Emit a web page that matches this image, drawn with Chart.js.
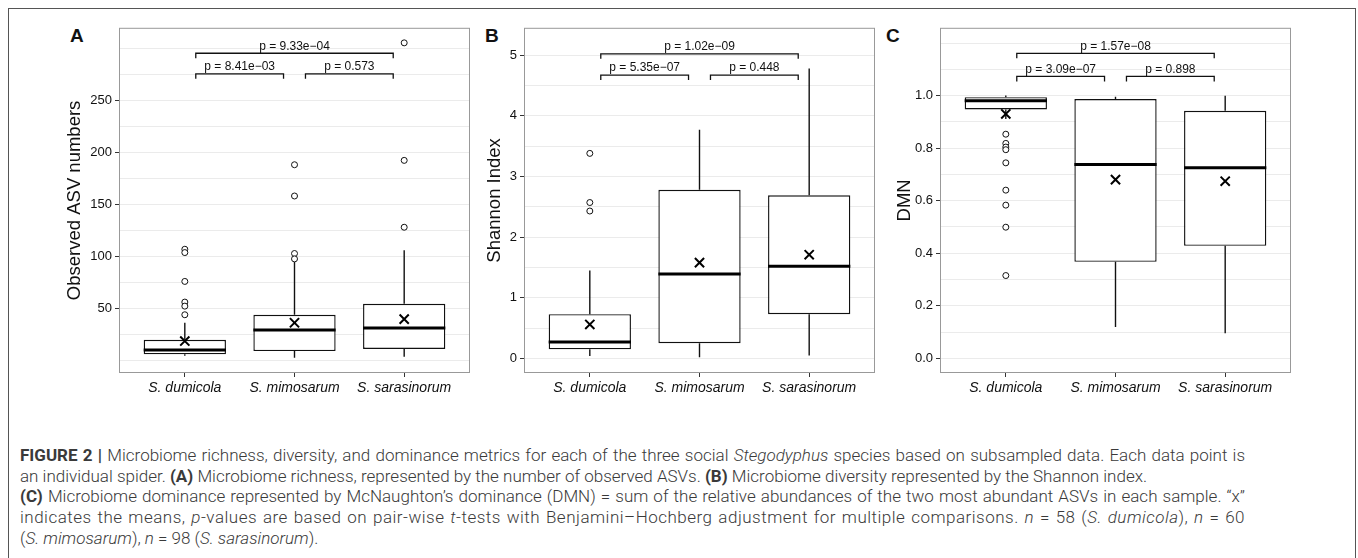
<!DOCTYPE html>
<html>
<head>
<meta charset="utf-8">
<script src="https://cdn.jsdelivr.net/npm/chart.js@4.4.0/dist/chart.umd.min.js"></script>
<style>
  body { margin: 0; width: 1358px; height: 558px; overflow: hidden; position: relative; background: #fff;
         font-family: "Liberation Sans", Arial, sans-serif; }
  #frame { position: absolute; left: 8px; top: 8px; width: 1348px; height: 570px; border: 1.5px solid #555; box-sizing: border-box; }
  .panel { position: absolute; top: 17px; width: 440px; height: 390px; }
  .tag { position: absolute; top: 26px; font-size: 19px; line-height: 1; font-weight: bold; color: #111; }
  #caption { position: absolute; left: 20px; top: 445px; width: 1225px; font-family: Roboto, "Liberation Sans", sans-serif;
             font-weight: 300; font-size: 17px; line-height: 20.7px; color: #3a3a3a; }
  #caption div { text-align: left; }
  #caption div.just { text-align: justify; text-align-last: justify; }
  #caption div.wide { letter-spacing: 0.5px; }
  #caption b { font-weight: 700; }
</style>
</head>
<body>
<div id="frame"></div>
<div class="tag" style="left:70px">A</div>
<div class="tag" style="left:485px">B</div>
<div class="tag" style="left:886px">C</div>
<canvas id="chartA" class="panel" style="left:40px" width="440" height="390"></canvas>
<canvas id="chartB" class="panel" style="left:445px" width="440" height="390"></canvas>
<canvas id="chartC" class="panel" style="left:861px" width="440" height="390"></canvas>
<div id="caption">
  <div class="just"><b>FIGURE 2 |</b> Microbiome richness, diversity, and dominance metrics for each of the three social <i>Stegodyphus</i> species based on subsampled data. Each data point is</div>
  <div>an individual spider. <b>(A)</b> Microbiome richness, represented by the number of observed ASVs. <b>(B)</b> Microbiome diversity represented by the Shannon index.</div>
  <div class="just"><b>(C)</b> Microbiome dominance represented by McNaughton’s dominance (DMN) = sum of the relative abundances of the two most abundant ASVs in each sample. “x”</div>
  <div class="just wide">indicates the means, <i>p</i>-values are based on pair-wise <i>t</i>-tests with Benjamini–Hochberg adjustment for multiple comparisons. <i>n</i> = 58 (<i>S. dumicola</i>), <i>n</i> = 60</div>
  <div>(<i>S. mimosarum</i>), <i>n</i> = 98 (<i>S. sarasinorum</i>).</div>
</div>
<script>
const species = ["S. dumicola", "S. mimosarum", "S. sarasinorum"];

// A: observed ASV numbers
const asvLow = [4, 2.2, 3.2];
const asvQ1 = [5.5, 8.6, 10.6];
const asvMedian = [9.6, 28.8, 30.8];
const asvQ3 = [19.5, 43.6, 54.2];
const asvHigh = [36, 95.5, 105.8];
const asvMean = [18.3, 35.9, 39.4];
const asvOutliers = [[106.7, 103.5, 75.7, 55.8, 51.9, 43.6], [102.6, 97.4, 188.1, 158], [127.9, 192.3, 305.5]];
const asvTicks = [50, 100, 150, 200, 250];
const asvP = ["p = 8.41e\u221203", "p = 0.573", "p = 9.33e\u221204"];

// B: Shannon index
const shLow = [0.04, 0.02, 0.05];
const shQ1 = [0.15, 0.25, 0.73];
const shMedian = [0.27, 1.39, 1.52];
const shQ3 = [0.73, 2.78, 2.69];
const shHigh = [1.45, 3.77, 4.78];
const shMean = [0.56, 1.58, 1.71];
const shOutliers = [[3.38, 2.57, 2.43], [], []];
const shTicks = [0, 1, 2, 3, 4, 5];
const shP = ["p = 5.35e\u221207", "p = 0.448", "p = 1.02e\u221209"];

// C: DMN
const dmnLow = [0.911, 0.119, 0.095];
const dmnQ1 = [0.947, 0.367, 0.428];
const dmnMedian = [0.98, 0.738, 0.725];
const dmnQ3 = [0.994, 0.987, 0.942];
const dmnHigh = [1.0, 0.996, 0.999];
const dmnMean = [0.93, 0.68, 0.674];
const dmnOutliers = [[0.853, 0.818, 0.804, 0.794, 0.744, 0.64, 0.583, 0.499, 0.315], [], []];
const dmnTicks = [0, 0.2, 0.4, 0.6, 0.8, 1.0];
const dmnP = ["p = 3.09e\u221207", "p = 0.898", "p = 1.57e\u221208"];

const pairs = [[1, 2], [2, 3], [1, 3]];

const panels = [
  { id: "chartA", title: "Observed ASV numbers", titlePad: 24, low: asvLow, q1: asvQ1, med: asvMedian, q3: asvQ3, high: asvHigh,
    mean: asvMean, out: asvOutliers, ticks: asvTicks, pvals: asvP, decimals: 0,
    yMin: -12.5, yMax: 320, gridStep: 25, gridMax: 300, bracketY: [275.7, 275.7, 295.5], drop: 4.8 },
  { id: "chartB", title: "Shannon Index", titlePad: 39, low: shLow, q1: shQ1, med: shMedian, q3: shQ3, high: shHigh,
    mean: shMean, out: shOutliers, ticks: shTicks, pvals: shP, decimals: 0,
    yMin: -0.24, yMax: 5.45, gridStep: 0.5, gridMax: 5, bracketY: [4.67, 4.67, 5.02], drop: 0.082 },
  { id: "chartC", title: "DMN", titlePad: 33, low: dmnLow, q1: dmnQ1, med: dmnMedian, q3: dmnQ3, high: dmnHigh,
    mean: dmnMean, out: dmnOutliers, ticks: dmnTicks, pvals: dmnP, decimals: 1,
    yMin: -0.056, yMax: 1.258, gridStep: 0.1, gridMax: 1.2, bracketY: [1.073, 1.073, 1.161], drop: 0.019 }
];

const gap = (x) => ({ x: x, y: null });

// panel border + p-value labels
const panelExtras = {
  id: "panelExtras",
  afterDatasetsDraw(chart, args, opts) {
    const { ctx, chartArea, scales } = chart;
    ctx.save();
    ctx.strokeStyle = "#999";
    ctx.lineWidth = 1;
    ctx.strokeRect(chartArea.left + 0.5, chartArea.top + 0.5, chartArea.width - 1, chartArea.height - 1);
    ctx.fillStyle = "#111";
    ctx.font = '12px "Liberation Sans", Arial, sans-serif';
    ctx.textAlign = "center";
    ctx.textBaseline = "bottom";
    opts.pvals.forEach((label, k) => {
      const [a, b] = pairs[k];
      const x = scales.x.getPixelForValue((a + b) / 2);
      const y = scales.y.getPixelForValue(opts.bracketY[k]);
      ctx.fillText(label, x, y - 1);
    });
    ctx.restore();
  }
};

panels.forEach((p) => {
  const boxes = species.map((s, i) => ({ x: i + 1, y: [p.q1[i], p.q3[i]] }));
  const whiskers = [];
  const medians = [];
  species.forEach((s, i) => {
    const x = i + 1;
    whiskers.push({ x: x, y: p.low[i] }, { x: x, y: p.q1[i] }, gap(x), { x: x, y: p.q3[i] }, { x: x, y: p.high[i] }, gap(x));
    medians.push({ x: x - 0.375, y: p.med[i] }, { x: x + 0.375, y: p.med[i] }, gap(x));
  });
  const means = p.mean.map((v, i) => ({ x: i + 1, y: v }));
  const outliers = [];
  p.out.forEach((list, i) => list.forEach((v) => outliers.push({ x: i + 1, y: v })));
  const brackets = [];
  pairs.forEach(([a, b], k) => {
    const y = p.bracketY[k];
    brackets.push({ x: a + 0.1, y: y - p.drop }, { x: a + 0.1, y: y }, { x: b - 0.1, y: y }, { x: b - 0.1, y: y - p.drop }, gap(b));
  });

  const grid = [];
  for (let k = 0; k * p.gridStep <= p.gridMax + 1e-9; k++) grid.push(Math.round(k * p.gridStep * 1000) / 1000);
  const labelled = (v) => p.ticks.some((t) => Math.abs(t - v) < 1e-6);

  new Chart(document.getElementById(p.id), {
    type: "bar",
    data: {
      datasets: [
        { type: "bar", data: boxes, backgroundColor: "#fff", borderColor: "#111", borderWidth: 1.4,
          borderSkipped: false, barPercentage: 0.75, categoryPercentage: 1, order: 5 },
        { type: "line", data: whiskers, borderColor: "#111", borderWidth: 1.4, pointRadius: 0, spanGaps: false, order: 6 },
        { type: "line", data: medians, borderColor: "#000", borderWidth: 3, pointRadius: 0, spanGaps: false, order: 3 },
        { type: "scatter", data: outliers, pointStyle: "circle", pointRadius: 3, borderWidth: 1,
          borderColor: "#111", backgroundColor: "#fff", order: 2 },
        { type: "scatter", data: means, pointStyle: "crossRot", pointRadius: 6.5, borderWidth: 2, borderColor: "#000", order: 1 },
        { type: "line", data: brackets, borderColor: "#111", borderWidth: 1.3, pointRadius: 0, spanGaps: false, order: 1 }
      ]
    },
    options: {
      responsive: false,
      animation: false,
      layout: { padding: { top: 10, right: 10, bottom: 4, left: 0 } },
      plugins: { legend: { display: false }, tooltip: { enabled: false }, panelExtras: { pvals: p.pvals, bracketY: p.bracketY } },
      scales: {
        x: {
          type: "linear", min: 0.4, max: 3.6, offset: false,
          afterBuildTicks: (scale) => { scale.ticks = species.map((s, i) => ({ value: i + 1 })); },
          afterFit: (scale) => { scale.height = 30; },
          grid: { drawOnChartArea: false, offset: false, tickLength: 4, tickColor: "#333" },
          border: { display: false },
          ticks: { padding: 3, color: "#111", font: { family: "Liberation Sans", size: 14, style: "italic" },
                   callback: (v) => species[Math.round(v) - 1], maxRotation: 0 }
        },
        y: {
          type: "linear", min: p.yMin, max: p.yMax,
          afterBuildTicks: (scale) => { scale.ticks = grid.map((v) => ({ value: v })); },
          afterFit: (scale) => { scale.width = 79; },
          grid: { color: "#ebebeb", lineWidth: 1, tickLength: 4,
                  tickColor: (c) => (c.tick && labelled(c.tick.value) ? "#333" : "rgba(0,0,0,0)") },
          border: { display: false },
          title: { display: true, text: p.title, color: "#111", padding: { top: p.titlePad, bottom: 0 },
                   font: { family: "Liberation Sans", size: 18.5 } },
          ticks: { padding: 3, color: "#111", font: { family: "Liberation Sans", size: 13 },
                   callback: (v) => (labelled(v) ? v.toFixed(p.decimals) : "") }
        }
      }
    },
    plugins: [panelExtras]
  });
});
</script>
</body>
</html>
